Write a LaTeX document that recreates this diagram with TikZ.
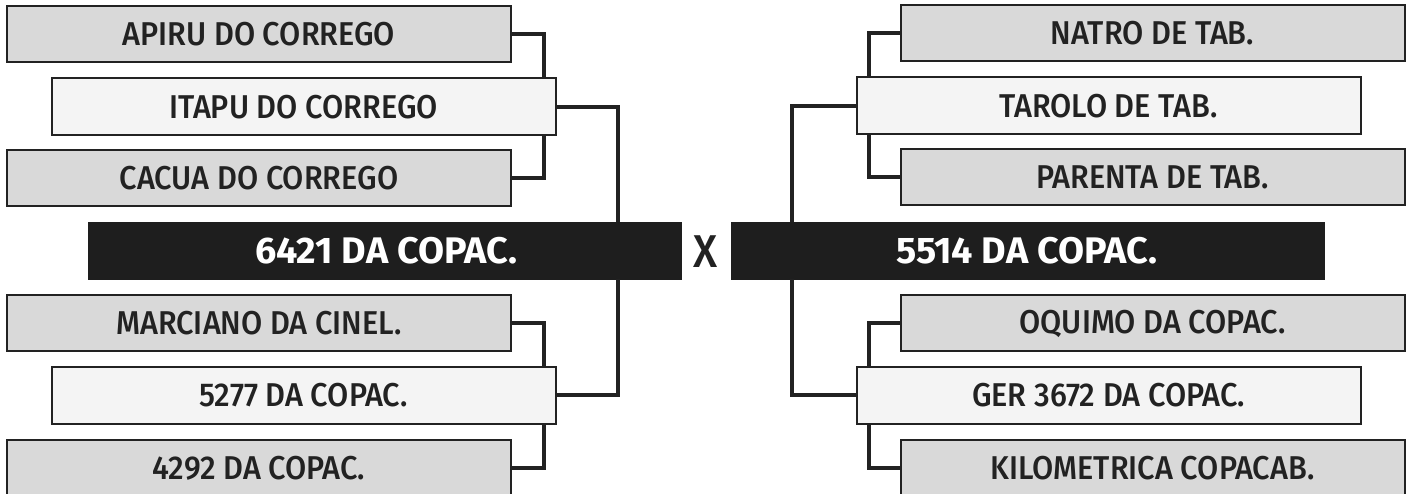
\documentclass[tikz,border=0pt]{standalone}
\usepackage{fontspec}
\usepackage{tikz}
\usetikzlibrary{calc}
\newfontfamily\boxfont{Fira Sans Medium}[FakeStretch=0.93]
\newfontfamily\teamfont{Fira Sans Bold}[FakeStretch=1.02]
\definecolor{boxgray}{HTML}{D9D9D9}
\definecolor{boxlight}{HTML}{F4F4F4}
\definecolor{boxdark}{HTML}{1E1E1E}
\definecolor{inkdark}{HTML}{222222}
\tikzset{
  seedbox/.style={draw=inkdark, line width=2pt, fill=boxgray, minimum width=504pt,
    minimum height=56pt, inner sep=0pt, text=inkdark, font=\boxfont\fontsize{33}{36}\selectfont},
  winbox/.style={seedbox, fill=boxlight, minimum height=57pt},
  teambox/.style={fill=boxdark, draw=boxdark, minimum width=593pt, minimum height=57pt, inner sep=0pt},
  teamtext/.style={anchor=west, text=white, inner sep=0pt, font=\teamfont\fontsize{37}{40}\selectfont},
  link/.style={draw=inkdark, line width=4pt}
}

\begin{document}
\begin{tikzpicture}[x=1pt, y=-1pt]
\useasboundingbox (0,0) rectangle (1409,494);

% --- Left bracket ---
\node[seedbox] (apiru) at (259,34) {APIRU DO CORREGO};
\node[winbox]  (itapu) at (303.5,107) {ITAPU DO CORREGO};
\node[seedbox] (cacua) at (259,178.5) {CACUA DO CORREGO};
\node[teambox] (teamL) at (384.5,250.5) {};
\node[teamtext] (teamLtxt) at ([xshift=167pt]teamL.west) {6421 DA COPAC.};
\node[seedbox] (marciano) at (259,323) {MARCIANO DA CINEL.};
\node[winbox]  (c5277) at (303.5,395.5) {5277 DA COPAC.};
\node[seedbox] (c4292) at (259,468) {4292 DA COPAC.};

% --- Right bracket ---
\node[seedbox] (natro) at (1152.5,33.5) {NATRO DE TAB.};
\node[winbox]  (tarolo) at (1108.5,106) {TAROLO DE TAB.};
\node[seedbox] (parenta) at (1152.5,177.5) {PARENTA DE TAB.};
\node[teambox] (teamR) at (1027.5,250.5) {};
\node[teamtext] (teamRtxt) at ([xshift=165pt]teamR.west) {5514 DA COPAC.};
\node[seedbox] (oquimo) at (1152.5,323.5) {OQUIMO DA COPAC.};
\node[winbox]  (ger) at (1108.5,395.5) {GER 3672 DA COPAC.};
\node[seedbox] (kilo) at (1152.5,468) {KILOMETRICA COPACAB.};

% versus
\node[text=inkdark, font=\boxfont\fontsize{46}{50}\selectfont, inner sep=0pt] (versus) at (706,252) {X};

% --- Connectors, left side ---
\draw[link] (apiru.east) -| ([xshift=-13pt]itapu.north east);
\draw[link] (cacua.east) -| ([xshift=-13pt]itapu.south east);
\draw[link] (marciano.east) -| ([xshift=-13pt]c5277.north east);
\draw[link] (c4292.east) -| ([xshift=-13pt]c5277.south east);
\draw[link] (itapu.east) -| ([xshift=-63pt]teamL.north east);
\draw[link] (c5277.east) -| ([xshift=-63pt]teamL.south east);

% --- Connectors, right side ---
\draw[link] (natro.west) -| ([xshift=13pt]tarolo.north west);
\draw[link] (parenta.west) -| ([xshift=13pt]tarolo.south west);
\draw[link] (oquimo.west) -| ([xshift=13pt]ger.north west);
\draw[link] (kilo.west) -| ([xshift=13pt]ger.south west);
\draw[link] (tarolo.west) -| ([xshift=61pt]teamR.north west);
\draw[link] (ger.west) -| ([xshift=61pt]teamR.south west);
\end{tikzpicture}
\end{document}
